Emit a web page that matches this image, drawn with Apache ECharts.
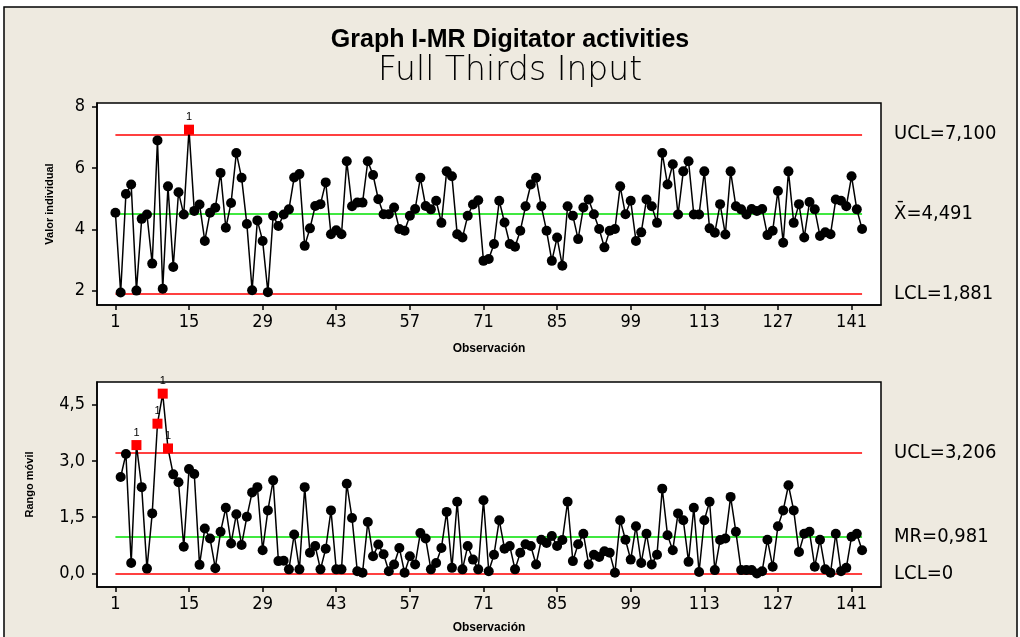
<!DOCTYPE html>
<html><head><meta charset="utf-8">
<script src="https://cdn.jsdelivr.net/npm/echarts@6/dist/echarts.min.js"></script>
<style>html,body{margin:0;padding:0;background:#fff;}#c{width:1020px;height:637px;}</style>
</head><body><div id="c"></div>
<script>
// Individual values, observations 1..143
const individual = [
4.54,1.94,5.15,5.46,2.00,4.34,4.48,2.88,6.90,2.06,
5.40,2.77,5.21,4.48,7.25,4.60,4.81,3.62,4.54,4.70,
5.84,4.05,4.86,6.49,5.68,4.17,2.01,4.29,3.62,1.95,
4.44,4.11,4.48,4.65,5.69,5.80,3.46,4.03,4.76,4.82,
5.53,3.84,3.97,3.84,6.22,4.75,4.87,4.87,6.22,5.77,
4.98,4.49,4.49,4.71,4.01,3.95,4.44,4.66,5.68,4.76,
4.65,4.93,4.21,5.89,5.73,3.84,3.73,4.44,4.81,4.95,
2.97,3.03,3.52,4.93,4.22,3.52,3.43,3.95,4.75,5.46,
5.68,4.75,3.95,2.97,3.73,2.81,4.75,4.44,3.68,4.71,
4.97,4.49,4.01,3.41,3.95,4.01,5.40,4.49,4.93,3.62,
3.90,4.97,4.75,4.21,6.49,5.46,6.12,4.48,5.89,6.22,
4.48,4.48,5.89,4.03,3.89,4.82,3.83,5.89,4.75,4.65,
4.48,4.66,4.60,4.66,3.81,3.95,5.25,3.56,5.89,4.21,
4.82,3.73,4.89,4.65,3.78,3.90,3.84,4.97,4.93,4.75,
5.73,4.65,4.01];
// Moving ranges, observations 2..143
const movingRange = [
2.57,3.18,0.28,3.42,2.30,0.13,1.60,3.99,4.79,3.33,
2.64,2.43,0.71,2.78,2.65,0.23,1.20,0.93,0.14,1.11,
1.75,0.80,1.58,0.76,1.51,2.16,2.30,0.62,1.68,2.48,
0.33,0.34,0.11,1.04,0.11,2.30,0.55,0.73,0.11,0.66,
1.68,0.11,0.11,2.39,1.48,0.06,0.02,1.37,0.46,0.77,
0.51,0.06,0.24,0.68,0.02,0.46,0.24,1.08,0.93,0.11,
0.28,0.68,1.64,0.15,1.91,0.11,0.73,0.37,0.11,1.95,
0.06,0.50,1.42,0.66,0.73,0.11,0.55,0.78,0.73,0.24,
0.90,0.81,1.00,0.73,0.89,1.91,0.33,0.78,1.06,0.24,
0.50,0.44,0.59,0.55,0.02,1.42,0.90,0.37,1.26,0.28,
1.06,0.24,0.50,2.26,1.02,0.62,1.60,1.42,0.31,1.75,
0.04,1.42,1.91,0.09,0.89,0.93,2.04,1.11,0.09,0.09,
0.09,0.00,0.06,0.90,0.18,1.26,1.68,2.35,1.68,0.57,
1.06,1.11,0.18,0.90,0.11,0.02,1.06,0.06,0.15,0.98,
1.06,0.62];
const xTicks = [1,15,29,43,57,71,85,99,113,127,141];
const iTicks = [2,4,6,8];
const mrTicks = [0,1.5,3,4.5];
const iLimits = [7.100, 4.491, 1.881];          // UCL, CL, LCL
const iLimitLabels = ['UCL=7,100', 'X\u0304=4,491', 'LCL=1,881'];
const mrLimits = [3.206, 0.981, 0];
const mrLimitLabels = ['UCL=3,206', 'MR=0,981', 'LCL=0'];
const firstObs = 1, lastObs = individual.length;

const BG = '#EEEAE0';
const tickFont = '"DejaVu Sans Condensed", "Liberation Sans Narrow", sans-serif';
const boldFont = '"Liberation Sans", Arial, sans-serif';

function pts(values, start, ucl) {
  return values.map((v, i) => {
    const o = { value: [start + i, v] };
    if (v > ucl) {
      o.symbol = 'rect'; o.symbolSize = 10;
      o.itemStyle = { color: '#FF0000' };
      o.label = { show: true, formatter: '1', position: 'top', distance: 2,
                  color: '#000', fontSize: 11, fontFamily: boldFont };
    }
    return o;
  });
}
function limitLines(vals, labels, gi) {
  const colors = ['#FF0000', '#00E000', '#FF0000'];
  return {
    type: 'line', xAxisIndex: gi, yAxisIndex: gi, data: [], silent: true,
    markLine: {
      silent: true, symbol: 'none', animation: false,
      data: vals.map((v, k) => [
        { coord: [firstObs, v], lineStyle: { color: colors[k], width: 1.5, type: 'solid' },
          label: { show: true, position: 'end', distance: 32, formatter: labels[k],
                   color: '#000', fontSize: 20, fontFamily: tickFont } },
        { coord: [lastObs, v] }
      ])
    }
  };
}
function xAxis(gi) {
  return {
    type: 'value', gridIndex: gi, min: -2.5, max: 146.6,
    name: 'Observación', nameLocation: 'middle', nameGap: gi === 0 ? 38 : 35,
    nameTextStyle: { fontSize: 12, fontWeight: 'bold', fontFamily: boldFont, color: '#000' },
    axisLine: { onZero: false, lineStyle: { color: '#000', width: 1.5 } },
    axisTick: { show: true, customValues: xTicks, length: 5, lineStyle: { color: '#000', width: 1.5 } },
    axisLabel: { customValues: xTicks, margin: 8, fontSize: 18, fontFamily: tickFont, color: '#000' },
    splitLine: { show: false }
  };
}
function yAxis(gi, min, max, ticks, name, gap, fmt) {
  return {
    type: 'value', gridIndex: gi, min: min, max: max,
    name: name, nameLocation: 'middle', nameRotate: 90, nameGap: gap,
    nameTextStyle: { fontSize: 11, fontWeight: 'bold', fontFamily: boldFont, color: '#000' },
    axisLine: { show: true, onZero: false, lineStyle: { color: '#000', width: 1.5 } },
    axisTick: { show: true, customValues: ticks, length: 5, lineStyle: { color: '#000', width: 1.5 } },
    axisLabel: { customValues: ticks, margin: 12, fontSize: 18, fontFamily: tickFont, color: '#000', formatter: fmt },
    splitLine: { show: false }
  };
}
const chart = echarts.init(document.getElementById('c'));
chart.setOption({
  backgroundColor: '#fff',
  animation: false,
  graphic: [{
    type: 'rect', z: -10, shape: { x: 4, y: 7, width: 1013, height: 640 },
    style: { fill: BG, stroke: '#000', lineWidth: 1.5 }
  }],
  title: [
    { text: 'Graph I-MR Digitator activities', left: 'center', top: 23,
      textStyle: { fontSize: 25, fontWeight: 'bold', fontFamily: boldFont, color: '#000' } },
    { text: 'Full Thirds Input', left: 'center', top: 50,
      textStyle: { fontSize: 33, fontWeight: 200, fontFamily: '"DejaVu Sans", sans-serif', color: '#000' } }
  ],
  grid: [
    { left: 97, top: 103, width: 784, height: 202, show: true, backgroundColor: '#fff', borderColor: '#000', borderWidth: 1.5 },
    { left: 97, top: 382, width: 784, height: 205, show: true, backgroundColor: '#fff', borderColor: '#000', borderWidth: 1.5 }
  ],
  xAxis: [xAxis(0), xAxis(1)],
  yAxis: [
    yAxis(0, 1.53, 8.12, iTicks, 'Valor individual', 42, v => String(v)),
    yAxis(1, -0.36, 5.10, mrTicks, 'Rango móvil', 62, v => v.toFixed(1).replace('.', ','))
  ],
  series: [
    limitLines(iLimits, iLimitLabels, 0),
    limitLines(mrLimits, mrLimitLabels, 1),
    { type: 'line', xAxisIndex: 0, yAxisIndex: 0, data: pts(individual, 1, iLimits[0]),
      symbol: 'circle', symbolSize: 10, itemStyle: { color: '#000' },
      lineStyle: { color: '#000', width: 1.5 }, z: 5 },
    { type: 'line', xAxisIndex: 1, yAxisIndex: 1, data: pts(movingRange, 2, mrLimits[0]),
      symbol: 'circle', symbolSize: 10, itemStyle: { color: '#000' },
      lineStyle: { color: '#000', width: 1.5 }, z: 5 }
  ]
});
</script></body></html>
